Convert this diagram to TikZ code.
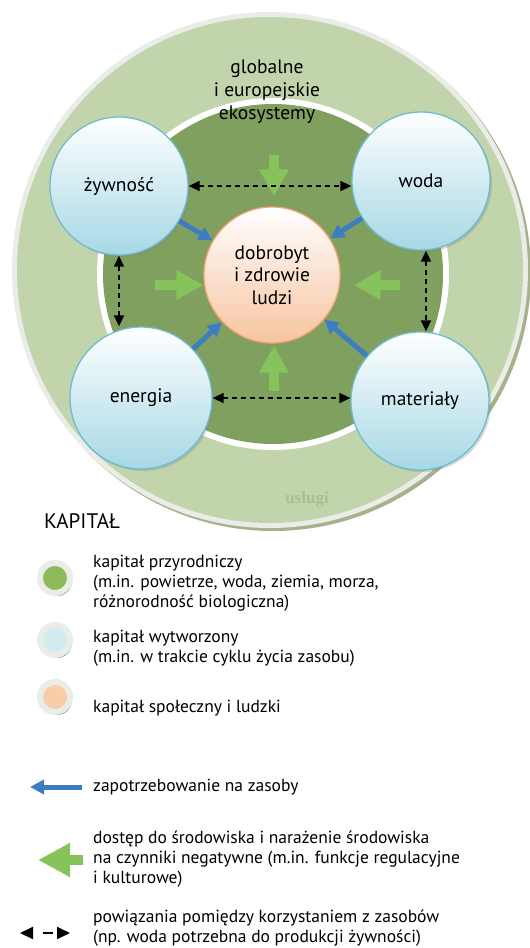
\documentclass[tikz,border=0pt]{standalone}
\usepackage{fontspec}
\setmainfont{PT Sans}
\newfontfamily\serviceserif{Liberation Serif}
\usetikzlibrary{arrows.meta,shadows}

\definecolor{ringlight}{RGB}{194,212,171}
\definecolor{ringdark}{RGB}{128,160,96}
\definecolor{ringshadow}{RGB}{165,178,140}
\definecolor{rimgray}{RGB}{234,236,232}
\definecolor{circblue}{RGB}{166,216,229}
\definecolor{circedge}{RGB}{110,188,206}
\definecolor{peach}{RGB}{247,196,160}
\definecolor{peachedge}{RGB}{243,165,112}
\definecolor{arrowgreen}{RGB}{134,195,90}
\definecolor{arrowblue}{RGB}{61,125,193}
\definecolor{natgreen}{RGB}{141,187,90}
\definecolor{manblue}{RGB}{209,236,240}
\definecolor{socpeach}{RGB}{248,205,168}
\definecolor{legshadow}{RGB}{128,140,95}
\definecolor{servicegray}{RGB}{172,190,150}

\begin{document}
\begin{tikzpicture}[x=1pt,y=-1pt,
  res/.style={circle,draw=circedge,line width=1.3pt,top color=white,bottom color=circblue,
    minimum size=138pt,inner sep=0pt,font=\fontsize{19.5}{22}\selectfont,
    drop shadow={shadow xshift=2pt,shadow yshift=-2pt,opacity=0.3}},
  wellbeing/.style={circle,draw=peachedge,line width=1.3pt,top color=white,bottom color=peach,
    minimum size=136pt,inner sep=0pt,align=center,font=\fontsize{19.5}{22.5}\selectfont},
  demand/.style={draw=arrowblue,line width=5pt,-{Triangle[width=14pt,length=14pt]}},
  access/.style={draw=arrowgreen,line width=10pt,-{Triangle[width=28pt,length=27pt]}},
  link/.style={line width=1.4pt,dash pattern=on 5pt off 4pt,
    {Triangle[width=10pt,length=11pt]}-{Triangle[width=10pt,length=11pt]}},
  legdot/.style={circle,draw=rimgray,line width=6pt,minimum size=30pt,inner sep=0pt,
    drop shadow={shadow xshift=2pt,shadow yshift=-3pt,fill=legshadow,opacity=1}},
  legtext/.style={anchor=west,align=left,inner sep=0pt,font=\fontsize{17.5}{20}\selectfont}]
  \useasboundingbox (0,0) rectangle (530,948);

  % rings
  \fill[ringshadow] (273,273) circle[radius=258pt];
  \fill[rimgray] (270,270) circle[radius=258pt];
  \fill[ringlight] (270,270) circle[radius=253pt];
  \fill[white] (273,274) circle[radius=176pt];
  \fill[ringdark] (273,274) circle[radius=170pt];
  \node[align=center,font=\fontsize{19.5}{23}\selectfont] (ekosystemy) at (267,92) {globalne\\i europejskie\\ekosystemy};
  \node[font=\serviceserif\bfseries\fontsize{17}{20}\selectfont,text=servicegray] (uslugi) at (307,499) {uslugi};

  % resources and people
  \node[wellbeing] (dobrobyt) at (272,275) {dobrobyt\\i zdrowie\\ludzi};
  \coordinate (gtop) at (274,155);
  \coordinate (gleft) at (155,285);
  \coordinate (gright) at (400,285);
  \coordinate (gbottom) at (274,391);
  \draw[access,shorten >=10pt] (gtop) -- (gtop |- dobrobyt.north);
  \draw[access] (gleft) -- (gleft -| dobrobyt.west);
  \draw[access,shorten >=13pt] (gright) -- (gright -| dobrobyt.east);
  \draw[access,shorten >=2pt] (gbottom) -- (gbottom |- dobrobyt.south);

  \node[res] (zywnosc) at (119,186) {żywność};
  \node[res] (woda) at (421,181) {woda};
  \node[res,minimum size=142pt] (energia) at (141,398) {energia};
  \node[res] (materialy) at (420,401) {materiały};

  \draw[demand] (zywnosc) -- (dobrobyt);
  \draw[demand] (woda) -- (dobrobyt);
  \draw[demand] (energia) -- (dobrobyt);
  \draw[demand] (materialy) -- (dobrobyt);

  \draw[link] (zywnosc.east) -- (zywnosc.east -| woda.west);
  \draw[link] (energia.east) -- (energia.east -| materialy.west);
  \draw[link] (zywnosc.south) -- (zywnosc.south |- energia.north);
  \draw[link] ([xshift=5pt]woda.south) -- ([xshift=5pt]woda.south |- materialy.north);

  % legend
  \node[anchor=west,inner sep=0pt,font=\fontsize{21}{24}\selectfont] (kapital) at (44,521) {KAPITAŁ};
  \node[legdot,fill=natgreen] (dotnat) at (55,578) {};
  \node[legdot,fill=manblue] (dotman) at (55,640) {};
  \node[legdot,fill=socpeach] (dotsoc) at (55,697) {};
  \node[legtext] (txtnat) at (93,583) {kapitał przyrodniczy\\(m.in. powietrze, woda, ziemia, morza,\\różnorodność biologiczna)};
  \node[legtext] (txtman) at (93,648) {kapitał wytworzony\\(m.in. w trakcie cyklu życia zasobu)};
  \node[legtext] (txtsoc) at (93,708) {kapitał społeczny i ludzki};

  \coordinate (bluetail) at (82,787);
  \coordinate (bluetip) at (30,787);
  \draw[demand] (bluetail) -- (bluetip);
  \node[legtext] (txtdemand) at (93,787) {zapotrzebowanie na zasoby};

  \coordinate (greentail) at (83,860);
  \coordinate (greentip) at (38,860);
  \draw[access,-{Triangle[width=32pt,length=32pt]}] (greentail) -- (greentip);
  \node[legtext] (txtaccess) at (93,859) {dostęp do środowiska i narażenie środowiska\\na czynniki negatywne (m.in. funkcje regulacyjne\\i kulturowe)};

  \coordinate (linkleft) at (20,933);
  \coordinate (linkright) at (70,933);
  \draw[link,line width=2pt,dash pattern=on 0pt off 10pt on 10pt off 30pt,
    {Triangle[width=12pt,length=13pt]}-{Triangle[width=12pt,length=13pt]}] (linkleft) -- (linkright);
  \node[legtext] (txtlink) at (93,928) {powiązania pomiędzy korzystaniem z zasobów\\(np. woda potrzebna do produkcji żywności)};
\end{tikzpicture}
\end{document}
